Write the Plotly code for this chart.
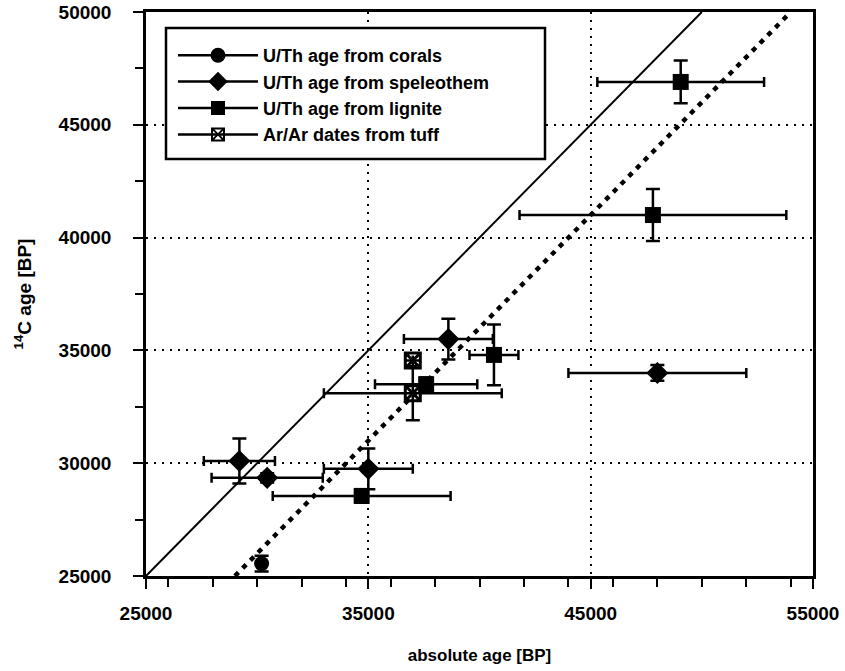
import plotly.graph_objects as go

# ---- data ----
corals_x = [30200]
corals_y = [25550]
corals_yerr = [350]

speleo_x = [29200, 30450, 35000, 38600, 48000]
speleo_y = [30100, 29350, 29750, 35500, 34000]
speleo_xerr = [1600, 2500, 2000, 2000, 4000]
speleo_yerr = [1000, 200, 900, 900, 350]

lignite_x = [34700, 37600, 40650, 47800, 49050]
lignite_y = [28550, 33500, 34800, 41000, 46900]
lignite_xerr = [4000, 2300, 1100, 6000, 3750]
lignite_yerr = [300, 300, 1350, 1150, 950]

tuff_x = [37000, 37000]
tuff_y = [33100, 34550]
tuff_xerr = [4000, 0]
tuff_yerr = [1200, 0]

line11_x = [25000, 50000]
line11_y = [25000, 50000]
offset_x = [29000, 54000]
offset_y = [25000, 50000]

legend_names = ["U/Th age from corals", "U/Th age from speleothem",
                "U/Th age from lignite", "Ar/Ar dates from tuff"]

# ---- layout geometry ----
W, H = 845, 671
L, R, T, B = 146, 813, 12, 576

FONT = "Liberation Sans"
fig = go.Figure()

fig.add_trace(go.Scatter(x=line11_x, y=line11_y, mode="lines",
                         line=dict(color="black", width=2), showlegend=False, hoverinfo="skip"))
fig.add_trace(go.Scatter(x=offset_x, y=offset_y, mode="lines",
                         line=dict(color="black", width=4.5, dash="5px,6px"), showlegend=False,
                         hoverinfo="skip"))

def eb(arr, w):
    return dict(type="data", array=arr, visible=True, color="black", thickness=2.5, width=w)

fig.add_trace(go.Scatter(x=corals_x, y=corals_y, mode="markers",
                         marker=dict(symbol="circle", size=15, color="black"),
                         error_y=eb(corals_yerr, 7), showlegend=False))
fig.add_trace(go.Scatter(x=speleo_x, y=speleo_y, mode="markers",
                         marker=dict(symbol="diamond", size=17, color="black"),
                         error_x=eb(speleo_xerr, 5), error_y=eb(speleo_yerr, 7), showlegend=False))
fig.add_trace(go.Scatter(x=lignite_x, y=lignite_y, mode="markers",
                         marker=dict(symbol="square", size=16, color="black"),
                         error_x=eb(lignite_xerr, 5), error_y=eb(lignite_yerr, 7), showlegend=False))
fig.add_trace(go.Scatter(x=tuff_x, y=tuff_y, mode="markers",
                         marker=dict(symbol="square-x-open", size=15, color="black",
                                     line=dict(color="black", width=3)),
                         error_x=eb(tuff_xerr, 5), error_y=eb(tuff_yerr, 7), showlegend=False))

# legend entries
leg_symbols = [("circle", 15, None), ("diamond", 15, None), ("square", 14, None),
               ("square-x-open", 12, 2)]
for name, (sym, sz, lw) in zip(legend_names, leg_symbols):
    mk = dict(symbol=sym, size=sz, color="black")
    if lw:
        mk["line"] = dict(color="black", width=lw)
    fig.add_trace(go.Scatter(x=[None], y=[None], mode="lines+markers", name=name,
                             line=dict(color="black", width=2.5), marker=mk))

def px2paper_x(px):
    return (px - L) / (R - L)

def px2paper_y(py):
    return (B - py) / (B - T)

fig.add_shape(type="rect", xref="paper", yref="paper",
              x0=px2paper_x(166), x1=px2paper_x(545), y0=px2paper_y(159), y1=px2paper_y(28),
              line=dict(color="black", width=2.5), fillcolor="white", layer="above")

axis_common = dict(showline=True, linecolor="black", linewidth=2.5, mirror=True,
                   ticks="outside", ticklen=10, tickwidth=2, tickcolor="black",
                   showgrid=True, gridcolor="black", gridwidth=1.5, griddash="2px,6px",
                   zeroline=False, automargin=False, tickformat="d",
                   tickfont=dict(family=FONT, size=19, color="black", weight="bold"))

fig.update_layout(
    width=W, height=H,
    margin=dict(l=L, r=W - R, t=T, b=H - B),
    paper_bgcolor="white", plot_bgcolor="white",
    font=dict(family=FONT, color="black"),
    xaxis=dict(range=[25000, 55000], tick0=25000, dtick=10000,
               minor=dict(dtick=2000, ticks="outside", ticklen=8, tickwidth=2, tickcolor="black",
                          showgrid=False),
               ticklabelstandoff=8,
               title=dict(text="absolute age [BP]", standoff=27,
                          font=dict(family=FONT, size=17, color="black", weight="bold")),
               **axis_common),
    yaxis=dict(range=[25000, 50000], tick0=25000, dtick=5000,
               minor=dict(dtick=2500, ticks="outside", ticklen=8, tickwidth=2, tickcolor="black",
                          showgrid=False),
               ticklabelstandoff=18,
               title=dict(text="<sup>14</sup>C age [BP]", standoff=22,
                          font=dict(family=FONT, size=19, color="black", weight="bold")),
               **axis_common),
    legend=dict(x=px2paper_x(173), y=px2paper_y(37), xanchor="left", yanchor="top",
                bgcolor="rgba(0,0,0,0)", borderwidth=0,
                font=dict(family=FONT, size=18, color="black", weight="bold"),
                itemwidth=80, tracegroupgap=0),
    showlegend=True,
)

fig.write_html("out.html", config={"displayModeBar": False},
               post_script="document.body.style.margin='0px';")
